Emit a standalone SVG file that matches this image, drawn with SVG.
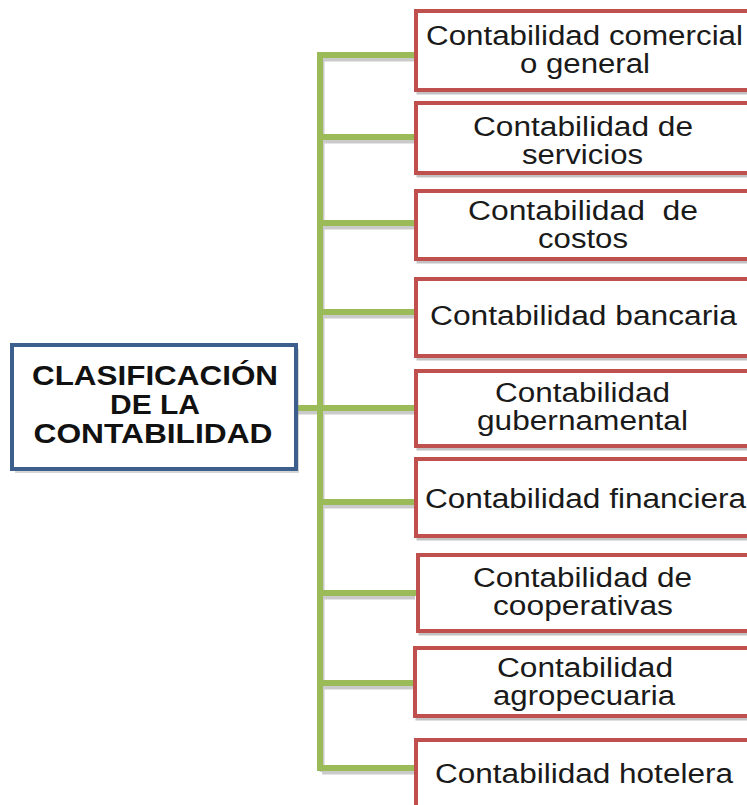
<svg xmlns="http://www.w3.org/2000/svg" width="747" height="805" viewBox="0 0 747 805">
<style>
.box{fill:#fff;stroke:#c0504d;stroke-width:4}
.shadow{fill:none;stroke:#9a9a9a;stroke-width:3;opacity:0.6}
.conn{stroke:#9bbb59;stroke-width:6;fill:none;stroke-linecap:square}
.cshadow{stroke:#8a8a8a;stroke-width:5;fill:none;opacity:0.45}
.t{font-family:"Liberation Sans",Arial,sans-serif;font-size:27px;fill:#1a1a1a}
.h{font-family:"Liberation Sans",Arial,sans-serif;font-size:27px;font-weight:bold;fill:#111}
</style>
<rect width="747" height="805" fill="#fff"/>
<g id="connectors">
  <path class="cshadow" d="M322 59V772M322 59H415M322 141H415M322 227H415M322 316H415M298 412H415M322 506H415M322 597H415M322 687H415M322 772H415"/>
  <path class="conn" d="M320 55V768M320 55H415M320 137H415M320 223H415M320 312H415M297 408H415M320 502H415M320 593H415M320 683H415M320 768H415"/>
</g>
<g id="root">
  <rect x="15" y="349" width="284" height="124" fill="#8a8a8a" opacity="0.35"/>
  <rect x="12" y="345" width="284" height="124" fill="#fff" stroke="#3c5f8d" stroke-width="4"/>
  <text class="h" x="155" y="385" text-anchor="middle" textLength="246" lengthAdjust="spacingAndGlyphs">CLASIFICACIÓN</text>
  <text class="h" x="155" y="414" text-anchor="middle" textLength="90" lengthAdjust="spacingAndGlyphs">DE LA</text>
  <text class="h" x="153" y="443" text-anchor="middle" textLength="239" lengthAdjust="spacingAndGlyphs">CONTABILIDAD</text>
</g>
<g id="n1">
  <rect class="shadow" x="418" y="14" width="345" height="79"/>
  <rect class="box" x="416" y="11" width="345" height="79"/>
  <text class="t" x="426" y="45" textLength="317" lengthAdjust="spacingAndGlyphs">Contabilidad comercial</text>
  <text class="t" x="520" y="73" textLength="130" lengthAdjust="spacingAndGlyphs">o general</text>
</g>
<g id="n2">
  <rect class="shadow" x="418" y="106" width="345" height="70"/>
  <rect class="box" x="416" y="103" width="345" height="70"/>
  <text class="t" x="473" y="135.5" textLength="220" lengthAdjust="spacingAndGlyphs">Contabilidad de</text>
  <text class="t" x="522" y="163.5" textLength="121" lengthAdjust="spacingAndGlyphs">servicios</text>
</g>
<g id="n3">
  <rect class="shadow" x="418" y="194" width="345" height="68"/>
  <rect class="box" x="416" y="191" width="345" height="68"/>
  <text class="t" x="468" y="220" textLength="230" lengthAdjust="spacingAndGlyphs" xml:space="preserve">Contabilidad  de</text>
  <text class="t" x="538" y="248" textLength="90" lengthAdjust="spacingAndGlyphs">costos</text>
</g>
<g id="n4">
  <rect class="shadow" x="418" y="282" width="345" height="77"/>
  <rect class="box" x="416" y="279" width="345" height="77"/>
  <text class="t" x="430" y="325" textLength="307" lengthAdjust="spacingAndGlyphs">Contabilidad bancaria</text>
</g>
<g id="n5">
  <rect class="shadow" x="418" y="374" width="345" height="75"/>
  <rect class="box" x="416" y="371" width="345" height="75"/>
  <text class="t" x="495" y="402" textLength="175" lengthAdjust="spacingAndGlyphs">Contabilidad</text>
  <text class="t" x="477" y="430" textLength="211" lengthAdjust="spacingAndGlyphs">gubernamental</text>
</g>
<g id="n6">
  <rect class="shadow" x="418" y="462" width="345" height="77"/>
  <rect class="box" x="416" y="459" width="345" height="77"/>
  <text class="t" x="425" y="508" textLength="321" lengthAdjust="spacingAndGlyphs">Contabilidad financiera</text>
</g>
<g id="n7">
  <rect class="shadow" x="420" y="558" width="345" height="76"/>
  <rect class="box" x="418" y="555" width="345" height="76"/>
  <text class="t" x="473" y="587" textLength="219" lengthAdjust="spacingAndGlyphs">Contabilidad de</text>
  <text class="t" x="493" y="615" textLength="180" lengthAdjust="spacingAndGlyphs">cooperativas</text>
</g>
<g id="n8">
  <rect class="shadow" x="417" y="651" width="345" height="68"/>
  <rect class="box" x="415" y="648" width="345" height="68"/>
  <text class="t" x="497" y="677" textLength="176" lengthAdjust="spacingAndGlyphs">Contabilidad</text>
  <text class="t" x="493" y="705" textLength="182" lengthAdjust="spacingAndGlyphs">agropecuaria</text>
</g>
<g id="n9">
  <rect class="box" x="416" y="740" width="345" height="80"/>
  <text class="t" x="435" y="783" textLength="298" lengthAdjust="spacingAndGlyphs">Contabilidad hotelera</text>
</g>
</svg>
